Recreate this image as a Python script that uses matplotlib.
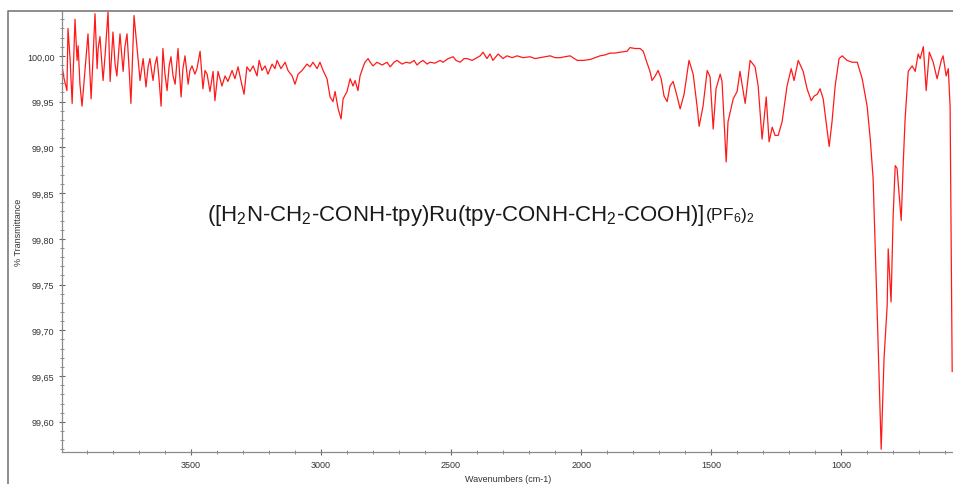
import matplotlib
matplotlib.use("Agg")
import matplotlib.pyplot as plt
from matplotlib.lines import Line2D
from matplotlib.ticker import MultipleLocator, FuncFormatter

plt.rcParams['font.family'] = ['Liberation Sans', 'DejaVu Sans']
plt.rcParams['mathtext.default'] = 'regular'

# IR spectrum
wavenumber = [
    3996, 3988, 3977, 3973, 3965, 3957, 3946, 3938, 3934, 3927, 3919, 3907, 3896, 3884, 3877,
    3869, 3861, 3857, 3850, 3838, 3830, 3819, 3811, 3800, 3792, 3785, 3773, 3761, 3754, 3746,
    3738, 3731, 3719, 3708, 3700, 3696, 3684, 3673, 3665, 3658, 3646, 3638, 3631, 3623, 3615,
    3608, 3600, 3592, 3584, 3577, 3569, 3561, 3550, 3538, 3531, 3523, 3511, 3504, 3496, 3485,
    3477, 3465, 3454, 3446, 3438, 3427, 3415, 3408, 3396, 3381, 3369, 3358, 3342, 3331, 3319,
    3308, 3296, 3285, 3273, 3261, 3246, 3238, 3227, 3215, 3204, 3188, 3177, 3169, 3154, 3138,
    3127, 3111, 3100, 3088, 3073, 3054, 3042, 3031, 3015, 3004, 2992, 2977, 2965, 2954, 2946,
    2934, 2923, 2915, 2900, 2888, 2877, 2869, 2858, 2850, 2838, 2831, 2819, 2811, 2800, 2785,
    2765, 2746, 2734, 2719, 2708, 2688, 2673, 2658, 2642, 2631, 2619, 2608, 2592, 2581, 2562,
    2542, 2531, 2511, 2492, 2481, 2465, 2450, 2438, 2419, 2400, 2388, 2377, 2362, 2350, 2339,
    2319, 2300, 2285, 2265, 2246, 2223, 2196, 2177, 2158, 2139, 2119, 2100, 2081, 2062, 2042,
    2015, 1992, 1965, 1946, 1927, 1908, 1888, 1869, 1850, 1823, 1812, 1792, 1773, 1761, 1746,
    1735, 1727, 1715, 1704, 1692, 1681, 1669, 1658, 1646, 1631, 1619, 1604, 1585, 1569, 1554,
    1546, 1531, 1515, 1504, 1492, 1481, 1465, 1458, 1442, 1435, 1415, 1400, 1389, 1369, 1350,
    1331, 1319, 1304, 1288, 1277, 1265, 1254, 1242, 1227, 1208, 1192, 1181, 1165, 1146, 1131,
    1115, 1104, 1092, 1081, 1069, 1058, 1046, 1035, 1023, 1008, 996, 977, 958, 938, 919,
    900, 888, 877, 861, 846, 835, 823, 819, 808, 800, 792, 785, 769, 761, 754,
    742, 727, 715, 704, 696, 684, 673, 661, 646, 631, 615, 608, 596, 588, 581,
    573,
]
transmittance = [
    99.989, 99.975, 99.962, 100.030, 99.997, 99.948, 100.040, 99.995, 100.011, 99.969, 99.945, 99.986, 100.024, 99.953, 99.997,
    100.046, 99.986, 100.008, 100.021, 99.973, 100.002, 100.048, 99.972, 100.026, 99.991, 99.978, 100.024, 99.983, 100.010, 100.024,
    99.986, 99.948, 100.044, 100.011, 99.986, 99.973, 99.997, 99.966, 99.988, 99.997, 99.973, 99.991, 99.999, 99.975, 99.945,
    100.008, 99.980, 99.962, 99.989, 99.999, 99.978, 99.969, 100.008, 99.955, 99.986, 100.000, 99.969, 99.984, 99.989, 99.980,
    99.986, 100.005, 99.964, 99.984, 99.980, 99.961, 99.983, 99.951, 99.983, 99.967, 99.978, 99.972, 99.984, 99.975, 99.988,
    99.973, 99.958, 99.988, 99.983, 99.989, 99.978, 99.995, 99.984, 99.989, 99.980, 99.991, 99.986, 99.995, 99.986, 99.993,
    99.984, 99.978, 99.969, 99.980, 99.984, 99.991, 99.988, 99.993, 99.986, 99.993, 99.984, 99.975, 99.955, 99.950, 99.961,
    99.942, 99.931, 99.953, 99.961, 99.975, 99.967, 99.973, 99.962, 99.978, 99.988, 99.993, 99.997, 99.993, 99.989, 99.993,
    99.990, 99.993, 99.988, 99.993, 99.995, 99.991, 99.993, 99.992, 99.995, 99.990, 99.993, 99.995, 99.991, 99.993, 99.992,
    99.995, 99.993, 99.997, 99.999, 99.995, 99.993, 99.997, 99.997, 99.995, 99.998, 100.000, 100.004, 99.997, 100.002, 99.995,
    100.002, 99.997, 100.000, 99.998, 100.000, 99.998, 99.999, 99.997, 99.998, 99.999, 100.000, 99.998, 99.998, 99.999, 100.000,
    99.995, 99.995, 99.996, 99.998, 100.000, 100.001, 100.003, 100.003, 100.004, 100.005, 100.009, 100.008, 100.008, 100.005, 99.992,
    99.983, 99.973, 99.978, 99.984, 99.975, 99.956, 99.950, 99.967, 99.972, 99.956, 99.942, 99.958, 99.995, 99.980, 99.945,
    99.923, 99.945, 99.984, 99.977, 99.920, 99.964, 99.980, 99.972, 99.884, 99.928, 99.953, 99.961, 99.983, 99.948, 99.995,
    99.988, 99.967, 99.909, 99.955, 99.906, 99.922, 99.913, 99.913, 99.928, 99.967, 99.986, 99.973, 99.995, 99.983, 99.964,
    99.951, 99.956, 99.958, 99.964, 99.953, 99.928, 99.901, 99.928, 99.967, 99.997, 100.000, 99.995, 99.993, 99.993, 99.975,
    99.945, 99.909, 99.866, 99.716, 99.570, 99.669, 99.727, 99.789, 99.731, 99.825, 99.880, 99.877, 99.820, 99.884, 99.931,
    99.983, 99.989, 99.983, 100.002, 99.997, 100.010, 99.962, 100.004, 99.993, 99.975, 99.995, 100.000, 99.978, 99.986, 99.945,
    99.655,
]
y_ticks = [99.60, 99.65, 99.70, 99.75, 99.80, 99.85, 99.90, 99.95, 100.00]
x_ticks = [3500, 3000, 2500, 2000, 1500, 1000]

fig = plt.figure(figsize=(9.54, 4.85), dpi=100)
ax = fig.add_axes([62 / 954, 32 / 485, 892 / 954, 441 / 485])

ax.plot(wavenumber, transmittance, color='#ff1a1a', linewidth=0.9)

ax.set_xlim(3996, 566)
ax.set_ylim(99.567, 100.049)
ax.set_xticks(x_ticks)
ax.set_yticks(y_ticks)
ax.xaxis.set_minor_locator(MultipleLocator(100))
ax.yaxis.set_minor_locator(MultipleLocator(0.01))
ax.yaxis.set_major_formatter(FuncFormatter(lambda v, p: f'{v:.2f}'.replace('.', ',')))

for s in ['top', 'right']:
    ax.spines[s].set_visible(False)
for s in ['left', 'bottom']:
    ax.spines[s].set_color('#8a8a8a')
    ax.spines[s].set_linewidth(0.9)
ax.tick_params(which='major', direction='inout', length=5, width=0.8, color='#666666',
               labelsize=6.5, labelcolor='#333333', pad=3)
ax.tick_params(which='minor', direction='inout', length=3, width=0.6, color='#777777')

ax.set_xlabel('Wavenumbers (cm-1)', fontsize=6.5, color='#333333', labelpad=4)
ax.set_ylabel('% Transmittance', fontsize=6.5, color='#333333', labelpad=3)

t1 = ax.text(0.441, 0.525, '([H$_2$N-CH$_2$-CONH-tpy)Ru(tpy-CONH-CH$_2$-COOH)]',
             transform=ax.transAxes, ha='center', va='baseline', fontsize=16, color='#1a1a1a')
ax.annotate('(PF$_6$)$_2$', xy=(1, 0), xycoords=t1, xytext=(1, 2.5), textcoords='offset points',
            ha='left', va='bottom', fontsize=12.5, color='#1a1a1a')

# outer frame of the screenshot
fig.add_artist(Line2D([8 / 954, 8 / 954, 1.0], [0.0, 473 / 485, 473 / 485],
                      transform=fig.transFigure, color='#7a7a7a', linewidth=1.2))

fig.savefig('out.png', dpi=100)
